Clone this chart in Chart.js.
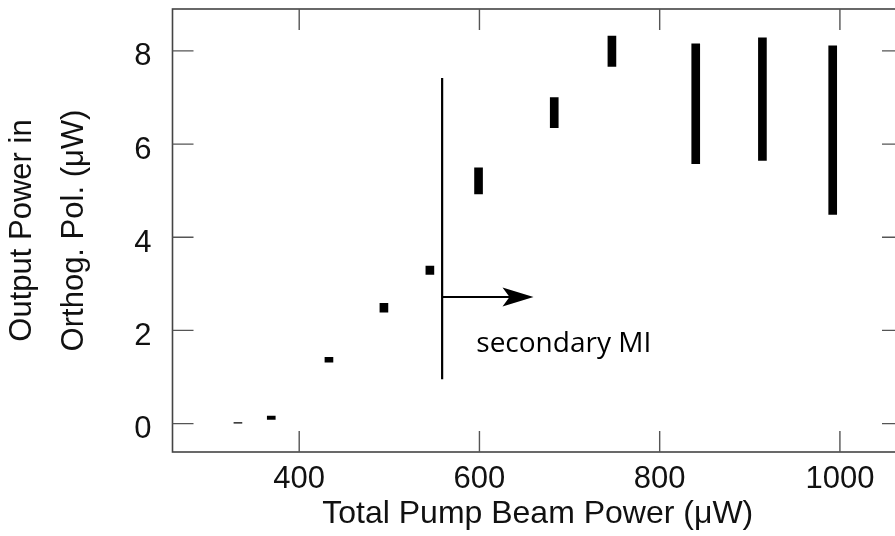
<!DOCTYPE html>
<html lang="en">
<head>
    <meta charset="UTF-8">
    <title>Orthogonal Polarization Output</title>
    <script src="https://cdn.jsdelivr.net/npm/chart.js@4.4.0/dist/chart.umd.min.js"></script>
    <style>
        body {
            margin: 0;
            overflow: hidden;
            background: #fff;
        }
        #wrap {
            width: 920px;
            height: 536px;
        }
    </style>
</head>
<body>
    <div id="wrap">
        <canvas id="mi" width="920" height="536"></canvas>
    </div>

    <script>
        // pump power (uW) and the range of output power (uW) seen at each step
        const pumpPower = [332, 369, 433, 494, 545, 599, 683, 747, 840, 914, 992];
        const outLow  = [0.01, 0.09, 1.32, 2.39, 3.20, 4.93, 6.35, 7.67, 5.58, 5.65, 4.49];
        const outHigh = [0.02, 0.16, 1.42, 2.58, 3.38, 5.49, 7.00, 8.32, 8.15, 8.28, 8.11];

        const xTicks = [400, 600, 800, 1000];
        const yTicks = [0, 2, 4, 6, 8];

        // "secondary MI" marker: threshold line, arrow and its label (data units)
        const miThreshold = 558.6;
        const miLineSpan = [0.95, 7.42];
        const miArrowY = 2.72;
        const miArrowEnd = 660;
        const miLabel = 'secondary MI';
        const miLabelAt = [596.5, 1.54];

        const font = '"Liberation Sans", Arial, Helvetica, sans-serif';

        // box round the plot plus inward ticks on all four sides
        const frame = {
            id: 'frame',
            afterDraw(chart) {
                const { ctx, chartArea: a, scales } = chart;
                ctx.save();
                ctx.strokeStyle = '#444';
                ctx.lineWidth = 1.6;
                ctx.strokeRect(a.left, a.top, a.right - a.left, a.bottom - a.top);

                ctx.strokeStyle = '#555';
                ctx.lineWidth = 1.4;
                const len = 21;
                ctx.beginPath();
                scales.x.ticks.forEach(t => {
                    const px = scales.x.getPixelForValue(t.value);
                    ctx.moveTo(px, a.bottom); ctx.lineTo(px, a.bottom - len);
                    ctx.moveTo(px, a.top); ctx.lineTo(px, a.top + len);
                });
                scales.y.ticks.forEach(t => {
                    const py = scales.y.getPixelForValue(t.value);
                    ctx.moveTo(a.left, py); ctx.lineTo(a.left + len, py);
                    ctx.moveTo(a.right, py); ctx.lineTo(a.right - len, py);
                });
                ctx.stroke();
                ctx.restore();
            }
        };

        const secondaryMI = {
            id: 'secondaryMI',
            afterDatasetsDraw(chart) {
                const { ctx, scales: { x, y } } = chart;
                const lx = x.getPixelForValue(miThreshold);
                const ay = y.getPixelForValue(miArrowY);
                const tip = x.getPixelForValue(miArrowEnd);
                ctx.save();
                ctx.strokeStyle = '#000';
                ctx.fillStyle = '#000';
                ctx.lineWidth = 2.2;
                ctx.beginPath();
                ctx.moveTo(lx, y.getPixelForValue(miLineSpan[0]));
                ctx.lineTo(lx, y.getPixelForValue(miLineSpan[1]));
                ctx.stroke();

                ctx.lineWidth = 2;
                ctx.beginPath();
                ctx.moveTo(lx, ay);
                ctx.lineTo(tip - 20, ay);
                ctx.stroke();

                // swept arrow head
                ctx.beginPath();
                ctx.moveTo(tip, ay);
                ctx.lineTo(tip - 31, ay - 9.5);
                ctx.lineTo(tip - 24, ay);
                ctx.lineTo(tip - 31, ay + 9.5);
                ctx.closePath();
                ctx.fill();

                ctx.font = '28px "Open Sans", "Liberation Sans", sans-serif';
                ctx.textAlign = 'left';
                ctx.textBaseline = 'alphabetic';
                ctx.fillText(miLabel, x.getPixelForValue(miLabelAt[0]), y.getPixelForValue(miLabelAt[1]));
                ctx.restore();
            }
        };

        new Chart(document.getElementById('mi'), {
            type: 'bar',
            data: {
                datasets: [{
                    data: pumpPower.map((p, i) => ({ x: p, y: [outLow[i], outHigh[i]] })),
                    backgroundColor: '#000',
                    borderWidth: 0,
                    barThickness: 8
                }]
            },
            options: {
                responsive: false,
                animation: false,
                layout: { padding: { left: 0, top: 9, right: 17, bottom: 0 } },
                plugins: {
                    legend: { display: false },
                    tooltip: { enabled: false }
                },
                scales: {
                    x: {
                        type: 'linear',
                        offset: false,
                        min: 259.4,
                        max: 1070,
                        afterBuildTicks: s => { s.ticks = xTicks.map(v => ({ value: v })); },
                        afterFit: s => {
                            s.height = 84;
                            s.paddingLeft = 0;
                            s.paddingRight = 0;
                        },
                        grid: { display: false, drawTicks: false },
                        border: { display: false },
                        ticks: {
                            padding: 9,
                            color: '#111',
                            font: { family: font, size: 31 },
                            callback: v => String(v)
                        },
                        title: {
                            display: true,
                            text: 'Total Pump Beam Power (μW)',
                            color: '#111',
                            padding: { top: 0, bottom: 3 },
                            font: { family: font, size: 32 }
                        }
                    },
                    y: {
                        min: -0.61,
                        max: 8.9,
                        afterBuildTicks: s => { s.ticks = yTicks.map(v => ({ value: v })); },
                        afterFit: s => {
                            s.width = 172.5;
                            s.paddingTop = 0;
                            s.paddingBottom = 0;
                        },
                        grid: { display: false, drawTicks: false },
                        border: { display: false },
                        ticks: {
                            padding: 21,
                            labelOffset: 6,
                            color: '#111',
                            font: { family: font, size: 31 },
                            callback: v => String(v)
                        },
                        title: {
                            display: true,
                            text: ['Output Power in', 'Orthog. Pol. (μW)'],
                            color: '#111',
                            padding: { top: -3.5, bottom: 0 },
                            font: { family: font, size: 31, lineHeight: 1.68 }
                        }
                    }
                }
            },
            plugins: [frame, secondaryMI]
        });
    </script>
</body>
</html>
